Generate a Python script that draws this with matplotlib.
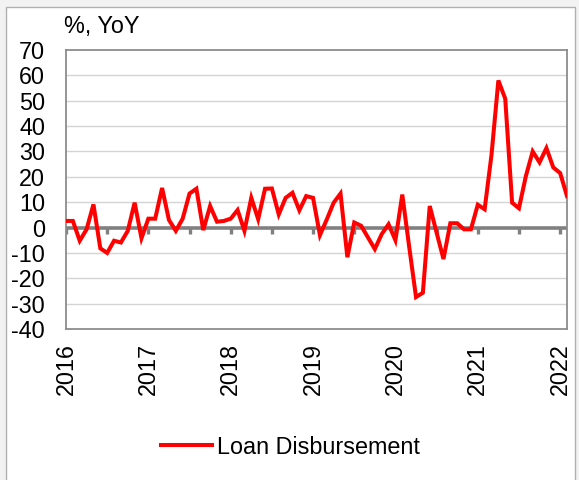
import matplotlib
matplotlib.use("Agg")
import matplotlib.pyplot as plt
from matplotlib.patches import Rectangle
import numpy as np

plt.rcParams['font.family'] = ['Liberation Sans', 'DejaVu Sans']

# Monthly YoY growth of loan disbursement, Jan 2016 - Feb 2022
loan_disbursement = [
    2.6, 2.6, -5.2, -0.7, 9.1, -8.2, -10.0, -5.2, -5.9, -1.3, 9.8, -4.2,    # 2016
    3.5, 3.5, 15.6, 3.0, -1.3, 3.5, 13.4, 15.3, -1.0, 8.5, 2.3, 2.6,        # 2017
    3.5, 6.9, -1.3, 11.7, 3.3, 15.3, 15.4, 5.2, 11.7, 13.7, 6.8, 12.4,      # 2018
    11.7, -3.0, 3.2, 9.8, 13.4, -11.7, 2.0, 0.7, -3.9, -8.5, -2.6, 1.3,     # 2019
    -5.0, 13.0, -7.5, -27.4, -25.7, 8.5, -2.0, -12.4, 1.7, 1.7, -0.7, -0.7, # 2020
    9.0, 7.2, 28.7, 58.0, 50.8, 9.8, 7.6, 20.2, 30.0, 25.7, 31.3, 23.7,     # 2021
    21.5, 12.4,                                                             # 2022
]
year_labels = ["2016", "2017", "2018", "2019", "2020", "2021", "2022"]
y_ticks = list(range(-40, 71, 10))
series_name = "Loan Disbursement"
unit_label = "%, YoY"

FS = 16.8
W, H = 579, 480
fig = plt.figure(figsize=(W / 100, H / 100), dpi=100)
fig.patch.set_facecolor("#f2f2f2")

# white chart area with a thin border, drawn beneath the axes
fig.patches.append(Rectangle((6 / W, -0.01), 569 / W, (H - 7) / H + 0.01,
                             transform=fig.transFigure, facecolor="white",
                             edgecolor="#b0b0b0", linewidth=1.0, zorder=-10))

left, right, top, bottom = 66, 567, 50, 329
ax = fig.add_axes([left / W, (H - bottom) / H, (right - left) / W, (bottom - top) / H])
ax.set_zorder(5)

months = np.arange(len(loan_disbursement))
n_last = len(loan_disbursement) - 1

ax.set_xlim(0, n_last)
ax.set_ylim(-40, 70)

# horizontal gridlines
for v in y_ticks:
    if v not in (0, -40, 70):
        ax.axhline(v, color="#d4d4d4", linewidth=1.0, zorder=1)

# zero line with half-year tick marks
ax.axhline(0, color="#808080", linewidth=2.6, zorder=2)
half_years = np.arange(0, n_last + 1, 6)
ax.vlines(half_years, -2.4, 0, color="#808080", linewidth=2.4, zorder=2)

ax.plot(months, loan_disbursement, color="#ff0000", linewidth=2.9,
        solid_joinstyle="miter", zorder=3, label=series_name)

ax.set_yticks(y_ticks)
ax.set_yticklabels([str(v) for v in y_ticks], fontsize=FS)
ax.tick_params(axis="y", length=0, pad=15)

ax.set_xticks(np.arange(0, n_last + 1, 12))
ax.set_xticklabels(year_labels, rotation=90, fontsize=FS)
ax.tick_params(axis="x", length=0, pad=10)

for s in ax.spines.values():
    s.set_color("#8c8c8c")
    s.set_linewidth(1.3)

fig.text(64 / W, 1 - 27 / H, unit_label, fontsize=FS, ha="left", va="center")

fig.legend(loc="center", bbox_to_anchor=(290 / W, 1 - 447 / H), frameon=False,
           fontsize=FS, handlelength=2.2, handletextpad=0.2)

fig.savefig("out.png", dpi=100, facecolor=fig.get_facecolor())
